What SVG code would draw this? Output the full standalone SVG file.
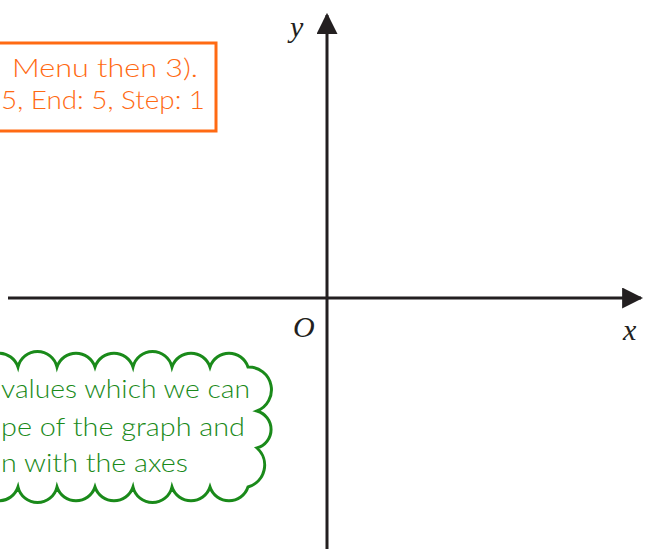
<svg xmlns="http://www.w3.org/2000/svg" width="645" height="552" viewBox="0 0 645 552">
<style>
.axis{stroke:#231f20;stroke-width:3;fill:none}
.lbl{font-family:"Liberation Serif","DejaVu Serif",serif;font-style:italic;font-size:30px;fill:#231f20}
.orange{font-family:Lato,"Noto Sans",sans-serif;font-weight:300;font-size:25px;fill:#ff6a13}
.green{font-family:Lato,"Noto Sans",sans-serif;font-weight:300;font-size:26px;fill:#1a8a1a}
</style>
<defs>
<marker id="arr" viewBox="0 0 10 10" refX="9" refY="5" markerWidth="7" markerHeight="7" markerUnits="strokeWidth" orient="auto">
<path d="M0,0 L10,5 L0,10 Z" fill="#231f20"/>
</marker>
</defs>
<g id="connectors">
<line class="axis" x1="8" y1="298" x2="641" y2="298" marker-end="url(#arr)"/>
<line class="axis" x1="327" y1="549" x2="327" y2="15" marker-end="url(#arr)"/>
</g>
<g id="axis-labels">
<text class="lbl" x="290" y="37">y</text>
<text class="lbl" x="293" y="337">O</text>
<text class="lbl" x="623" y="340">x</text>
</g>
<g id="orange-box">
<rect x="-20" y="43" width="236" height="88" fill="none" stroke="#ff6a13" stroke-width="3"/>
<text class="orange" x="12" y="77" textLength="186" lengthAdjust="spacingAndGlyphs">Menu then 3).</text>
<text class="orange" x="1" y="109" textLength="204" lengthAdjust="spacingAndGlyphs">5, End: 5, Step: 1</text>
</g>
<g id="green-cloud">
<path d="M-58 367 A20 20 0 0 1 -20 367 A20 20 0 0 1 18 367 A20 20 0 0 1 57 367 A20 20 0 0 1 95 367 A20 20 0 0 1 133 367 A20 20 0 0 1 172 367 A20 20 0 0 1 210 367 A20 20 0 0 1 248 367 A22.8 22.8 0 0 1 257 411 A19.2 19.2 0 0 1 257 448 A22.8 22.8 0 0 1 248 487 A20 20 0 0 1 210 487 A20 20 0 0 1 172 487 A20 20 0 0 1 133 487 A20 20 0 0 1 95 487 A20 20 0 0 1 57 487 A20 20 0 0 1 18 487 A20 20 0 0 1 -20 487 A20 20 0 0 1 -58 487 Z" fill="none" stroke="#1a8a1a" stroke-width="3"/>
<text class="green" x="1" y="398" textLength="249" lengthAdjust="spacingAndGlyphs">values which we can</text>
<text class="green" x="1" y="436" textLength="244" lengthAdjust="spacingAndGlyphs">pe of the graph and</text>
<text class="green" x="1" y="472" textLength="187" lengthAdjust="spacingAndGlyphs">n with the axes</text>
</g>
</svg>
